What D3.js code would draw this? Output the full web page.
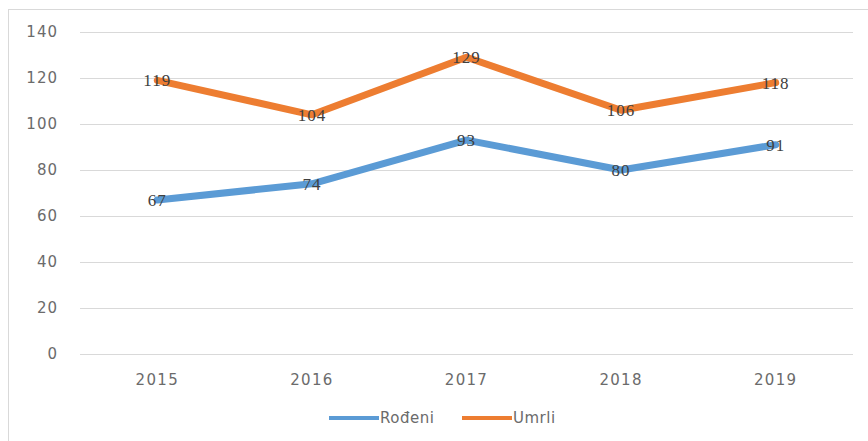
<!DOCTYPE html>
<html>
<head>
<meta charset="utf-8">
<script src="https://cdn.jsdelivr.net/npm/d3@7"></script>
<style>
  body { margin: 0; background: #fff; }
  text { font-family: "DejaVu Sans", "Open Sans", sans-serif; }
</style>
</head>
<body>
<svg id="chart"></svg>
<script>
const years = ['2015', '2016', '2017', '2018', '2019'];
const rodeni = [67, 74, 93, 80, 91];
const umrli = [119, 104, 129, 106, 118];
const yTicks = [0, 20, 40, 60, 80, 100, 120, 140];

const series = [
  { name: 'Rođeni', values: rodeni, color: '#5b9bd5' },
  { name: 'Umrli', values: umrli, color: '#ed7d31' }
];

const width = 868, height = 441;
const margin = { left: 80, right: 15, top: 32, bottom: 87 };

var svg = d3.select('#chart')
  .attr('width', width)
  .attr('height', height);

svg.append('rect')
  .attr('x', 8.5).attr('y', 9.5)
  .attr('width', 870).attr('height', 440)
  .attr('fill', '#fff')
  .attr('stroke', '#d9d9d9');

var x = d3.scaleBand()
  .domain(years)
  .range([margin.left, width - margin.right]);

var y = d3.scaleLinear()
  .domain([0, 140])
  .range([height - margin.bottom, margin.top]);

// gridlines
svg.append('g')
  .selectAll('line')
  .data(yTicks)
  .enter()
  .append('line')
  .attr('x1', margin.left)
  .attr('x2', width - margin.right)
  .attr('y1', d => Math.round(y(d)) + 0.5)
  .attr('y2', d => Math.round(y(d)) + 0.5)
  .attr('stroke', '#d9d9d9')
  .attr('stroke-width', 1);

// y labels
svg.append('g')
  .selectAll('text')
  .data(yTicks)
  .enter()
  .append('text')
  .attr('x', 58)
  .attr('y', d => y(d))
  .attr('dy', '0.35em')
  .attr('text-anchor', 'end')
  .attr('font-size', 15)
  .attr('letter-spacing', 1)
  .attr('fill', '#6b6b6b')
  .text(d => d);

// x labels
svg.append('g')
  .selectAll('text')
  .data(years)
  .enter()
  .append('text')
  .attr('x', d => x(d) + x.bandwidth() / 2)
  .attr('y', y(0) + 31)
  .attr('text-anchor', 'middle')
  .attr('font-size', 15)
  .attr('letter-spacing', 1.3)
  .attr('fill', '#6b6b6b')
  .text(d => d);

var line = d3.line()
  .x((d, i) => x(years[i]) + x.bandwidth() / 2)
  .y(d => y(d));

series.forEach(function (s) {
  svg.append('path')
    .datum(s.values)
    .attr('d', line)
    .attr('fill', 'none')
    .attr('stroke', s.color)
    .attr('stroke-width', 7)
    .attr('stroke-linejoin', 'round')
    .attr('stroke-linecap', 'round');
});

series.forEach(function (s) {
  svg.append('g')
    .selectAll('text')
    .data(s.values)
    .enter()
    .append('text')
    .attr('x', (d, i) => x(years[i]) + x.bandwidth() / 2)
    .attr('y', d => y(d))
    .attr('dy', '0.35em')
    .attr('text-anchor', 'middle')
    .style('font-family', '"Liberation Serif", serif')
    .attr('font-size', 17)
    .attr('letter-spacing', 1)
    .attr('fill', '#404040')
    .text(d => d);
});

// legend
var legend = svg.append('g');
var lx = [329, 462];
series.forEach(function (s, i) {
  legend.append('line')
    .attr('x1', lx[i]).attr('x2', lx[i] + 50)
    .attr('y1', 418).attr('y2', 418)
    .attr('stroke', s.color)
    .attr('stroke-width', 4);
  legend.append('text')
    .attr('x', lx[i] + 51)
    .attr('y', 418)
    .attr('dy', '0.35em')
    .attr('font-size', 15)
    .attr('letter-spacing', 0.5)
    .attr('fill', '#6b6b6b')
    .text(s.name);
});
</script>
</body>
</html>
